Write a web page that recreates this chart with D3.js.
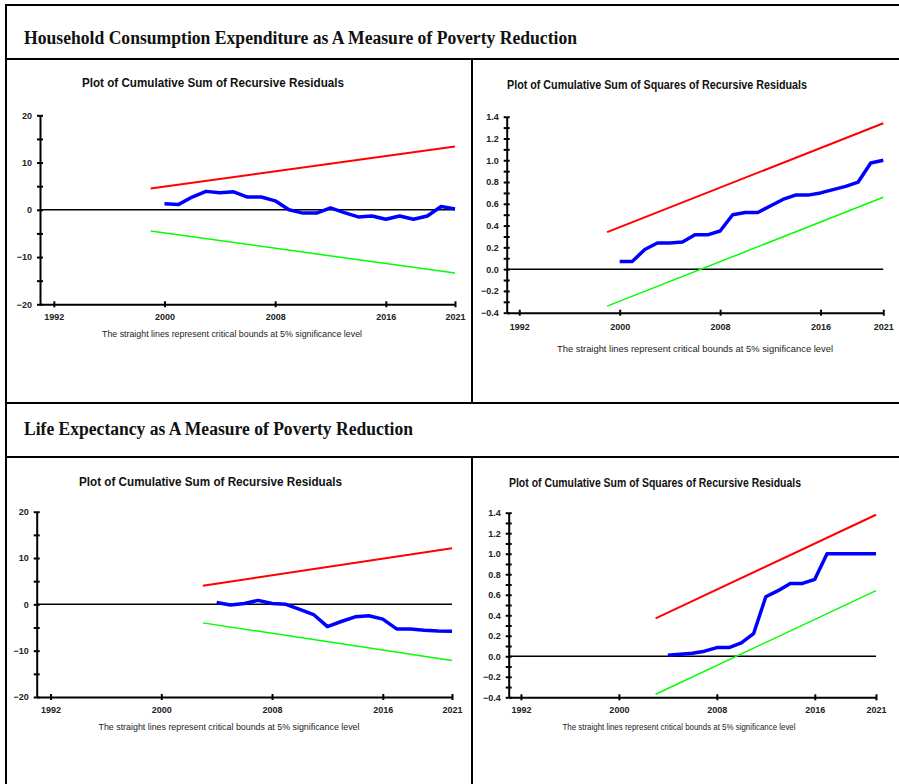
<!DOCTYPE html>
<html>
<head>
<meta charset="utf-8">
<script src="https://cdn.jsdelivr.net/npm/d3@7/dist/d3.min.js"></script>
<style>
  body { margin: 0; background: #fff; }
  svg { display: block; }
</style>
</head>
<body>
<svg id="chart" width="899" height="784"></svg>
<script>
// ---- Household consumption expenditure model ----
const hceYears = [2000, 2001, 2002, 2003, 2004, 2005, 2006, 2007, 2008, 2009, 2010,
                  2011, 2012, 2013, 2014, 2015, 2016, 2017, 2018, 2019, 2020, 2021];
const hceCusum = [1.3, 1.1, 2.7, 3.9, 3.6, 3.8, 2.7, 2.7, 1.9, 0.0, -0.7,
                  -0.7, 0.4, -0.6, -1.5, -1.3, -2.0, -1.3, -2.0, -1.3, 0.7, 0.2];
const hceCusumsq = [0.07, 0.07, 0.18, 0.24, 0.24, 0.25, 0.315, 0.315, 0.35, 0.50, 0.52,
                    0.52, 0.58, 0.64, 0.68, 0.68, 0.70, 0.73, 0.76, 0.80, 0.975, 1.0];
const hceBoundYears = [1999, 2021];
const hceCusumUpper = [4.5, 13.4];
const hceCusumLower = [-4.5, -13.4];
const hceCusumsqUpper = [0.34, 1.34];
const hceCusumsqLower = [-0.34, 0.66];

// ---- Life expectancy model ----
const lifeYears = [2004, 2005, 2006, 2007, 2008, 2009, 2010, 2011, 2012,
                   2013, 2014, 2015, 2016, 2017, 2018, 2019, 2020, 2021];
const lifeCusum = [0.4, -0.15, 0.2, 0.85, 0.2, 0.0, -1.1, -2.2, -4.8,
                   -3.7, -2.7, -2.45, -3.2, -5.3, -5.3, -5.6, -5.75, -5.8];
const lifeCusumsq = [0.01, 0.02, 0.03, 0.05, 0.085, 0.085, 0.13, 0.22, 0.58,
                     0.64, 0.71, 0.71, 0.75, 1.0, 1.0, 1.0, 1.0, 1.0];
const lifeBoundYears = [2003, 2021];
const lifeCusumUpper = [4.0, 12.1];
const lifeCusumLower = [-4.0, -12.1];
const lifeCusumsqUpper = [0.37, 1.38];
const lifeCusumsqLower = [-0.37, 0.64];

// ---- Shared axis settings ----
const yearDomain = [1991, 2021];
const yearTicks = [1992, 2000, 2008, 2016, 2021];
const cusumDomain = [-20, 20];
const cusumTicks = [-20, -15, -10, -5, 0, 5, 10, 15, 20];
const cusumLabels = [-20, -10, 0, 10, 20];
const cusumsqDomain = [-0.4, 1.4];
const cusumsqTicks = [-0.4, -0.3, -0.2, -0.1, 0, 0.1, 0.2, 0.3, 0.4, 0.5, 0.6, 0.7,
                      0.8, 0.9, 1.0, 1.1, 1.2, 1.3, 1.4];
const cusumsqLabels = [-0.4, -0.2, 0, 0.2, 0.4, 0.6, 0.8, 1.0, 1.2, 1.4];

const sectionTitles = [
  "Household Consumption Expenditure as A Measure of Poverty Reduction",
  "Life Expectancy as A Measure of Poverty Reduction"
];
const cusumTitle = "Plot of Cumulative Sum of Recursive Residuals";
const cusumsqTitle = "Plot of Cumulative Sum of Squares of Recursive Residuals";
const footnote = "The straight lines represent critical bounds at 5% significance level";

const svg = d3.select("#chart");

// ---- Frame of the two-section table ----
const frame = svg.append("g").attr("stroke", "#000").attr("stroke-width", 2);
[[6, 5, 899, 5], [6, 4, 6, 784], [6, 59, 899, 59], [472, 59, 472, 403],
 [6, 403, 899, 403], [6, 457, 899, 457], [472, 457, 472, 784]]
  .forEach(([x1, y1, x2, y2]) => frame.append("line")
    .attr("x1", x1).attr("y1", y1).attr("x2", x2).attr("y2", y2));

const serif = "'Liberation Serif', 'Times New Roman', serif";
[[sectionTitles[0], 44, 553], [sectionTitles[1], 435, 389]].forEach(([t, y, len]) => {
  svg.append("text").attr("x", 24).attr("y", y).text(t)
    .attr("font-family", serif).attr("font-weight", "bold").attr("font-size", 18)
    .attr("textLength", len).attr("lengthAdjust", "spacingAndGlyphs").attr("fill", "#111");
});

const panels = [
  { x: [40, 455], y: [304.3, 115.3], domain: cusumDomain, ticks: cusumTicks, labels: cusumLabels, fmt: d3.format("d"),
    title: cusumTitle, titleX: 213, titleY: 87, titleLen: 262, footX: 232, footY: 337, footLen: 260, xLabelY: 320.5,
    years: hceYears, values: hceCusum, boundYears: hceBoundYears, upper: hceCusumUpper, lower: hceCusumLower },
  { x: [506.7, 883.3], y: [312.7, 116.7], domain: cusumsqDomain, ticks: cusumsqTicks, labels: cusumsqLabels, fmt: d3.format(".1f"),
    title: cusumsqTitle, titleX: 657, titleY: 89, titleLen: 300, footX: 695, footY: 352, footLen: 276, xLabelY: 330,
    years: hceYears, values: hceCusumsq, boundYears: hceBoundYears, upper: hceCusumsqUpper, lower: hceCusumsqLower },
  { x: [36.7, 452], y: [697, 511.7], domain: cusumDomain, ticks: cusumTicks, labels: cusumLabels, fmt: d3.format("d"),
    title: cusumTitle, titleX: 210.5, titleY: 486, titleLen: 263, footX: 229, footY: 730, footLen: 261, xLabelY: 713,
    years: lifeYears, values: lifeCusum, boundYears: lifeBoundYears, upper: lifeCusumUpper, lower: lifeCusumLower },
  { x: [508.7, 876], y: [697.3, 512.7], domain: cusumsqDomain, ticks: cusumsqTicks, labels: cusumsqLabels, fmt: d3.format(".1f"),
    title: cusumsqTitle, titleX: 655, titleY: 486.5, titleLen: 292, footX: 679, footY: 730, footLen: 233, xLabelY: 713,
    years: lifeYears, values: lifeCusumsq, boundYears: lifeBoundYears, upper: lifeCusumsqUpper, lower: lifeCusumsqLower }
];

const sans = "'Liberation Sans', Arial, Helvetica, sans-serif";

panels.forEach(p => {
  const g = svg.append("g");
  const xs = d3.scaleLinear().domain(yearDomain).range(p.x);
  const ys = d3.scaleLinear().domain(p.domain).range(p.y);

  g.append("text").attr("x", p.titleX).attr("y", p.titleY).attr("text-anchor", "middle")
    .attr("font-family", sans).attr("font-weight", "bold").attr("font-size", 12)
    .attr("textLength", p.titleLen).attr("lengthAdjust", "spacingAndGlyphs")
    .attr("fill", "#111").text(p.title);
  g.append("text").attr("x", p.footX).attr("y", p.footY).attr("text-anchor", "middle")
    .attr("font-family", sans).attr("font-size", 9).attr("fill", "#222")
    .attr("textLength", p.footLen).attr("lengthAdjust", "spacingAndGlyphs").text(footnote);

  // Zero reference line
  g.append("line").attr("x1", p.x[0]).attr("x2", p.x[1])
    .attr("y1", ys(0)).attr("y2", ys(0)).attr("stroke", "#000").attr("stroke-width", 1.5);

  // Critical bounds and the recursive-residual statistic
  const line = d3.line().x(d => xs(d[0])).y(d => ys(d[1]));
  g.append("path").datum(d3.zip(p.boundYears, p.upper)).attr("d", line)
    .attr("fill", "none").attr("stroke", "#ff0000").attr("stroke-width", 2);
  g.append("path").datum(d3.zip(p.boundYears, p.lower)).attr("d", line)
    .attr("fill", "none").attr("stroke", "#00ff00").attr("stroke-width", 1.5);
  g.append("path").datum(d3.zip(p.years, p.values)).attr("d", line)
    .attr("fill", "none").attr("stroke", "#0000ff").attr("stroke-width", 3.5)
    .attr("stroke-linejoin", "round");

  // Y axis: outward ticks with labels, plus inward ticks
  const yOut = d3.axisLeft(ys).tickValues(p.ticks).tickSizeInner(3).tickSizeOuter(0)
    .tickFormat(d => p.labels.some(l => Math.abs(l - d) < 1e-9) ? p.fmt(d) : "");
  const yIn = d3.axisRight(ys).tickValues(p.ticks).tickSizeInner(3).tickSizeOuter(0).tickFormat("");
  const ya = g.append("g").attr("transform", `translate(${p.x[0]},0)`).call(yOut);
  g.append("g").attr("transform", `translate(${p.x[0]},0)`).call(yIn).select(".domain").remove();
  ya.selectAll("text").attr("x", -8).attr("font-family", sans).attr("font-weight", "bold")
    .attr("font-size", 9).attr("fill", "#222");

  // X axis: ticks crossing the axis line
  const xOut = d3.axisBottom(xs).tickValues(yearTicks).tickSizeInner(3).tickSizeOuter(0).tickFormat(d3.format("d"));
  const xIn = d3.axisTop(xs).tickValues(yearTicks).tickSizeInner(3).tickSizeOuter(0).tickFormat("");
  const base = p.y[0];
  const xa = g.append("g").attr("transform", `translate(0,${base})`).call(xOut);
  g.append("g").attr("transform", `translate(0,${base})`).call(xIn).select(".domain").remove();
  xa.selectAll("text").attr("y", p.xLabelY - base).attr("dy", 0)
    .attr("font-family", sans).attr("font-weight", "bold").attr("font-size", 9).attr("fill", "#222");

  g.selectAll(".domain, .tick line").attr("stroke", "#000").attr("stroke-width", 2);
});
</script>
</body>
</html>
